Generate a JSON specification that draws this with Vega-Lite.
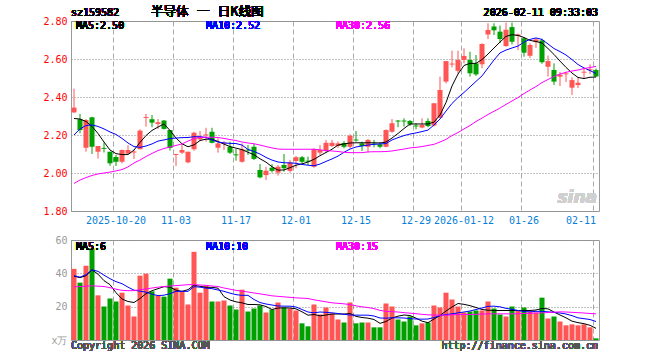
{
"$schema": "https://vega.github.io/schema/vega-lite/v6.json",
"background": "white",
"autosize": {"type": "pad"},
"padding": {"left": 42, "top": 5, "right": 5, "bottom": 5},
"spacing": 8,
"config": {
  "view": {"stroke": "#999", "strokeWidth": 1},
  "axis": {"labelFont": "DejaVu Sans Mono", "labelFontSize": 10, "labelOverlap": false},
  "text": {"font": "DejaVu Sans Mono", "fontSize": 10}
},
"datasets": {"k": [
{"d":"2025-10-09","o":2.319,"h":2.444,"l":2.316,"c":2.344,"v":42.7,"m5":2.287,"m10":2.200,"m30":1.945,"vm5":38.3,"vm10":38.6,"vm30":31.9},
{"d":"2025-10-10","o":2.283,"h":2.311,"l":2.209,"c":2.226,"v":34.4,"m5":2.284,"m10":2.232,"m30":1.963,"vm5":37.4,"vm10":37.7,"vm30":32.1},
{"d":"2025-10-13","o":2.133,"h":2.284,"l":2.112,"c":2.279,"v":44.5,"m5":2.271,"m10":2.250,"m30":1.976,"vm5":38.6,"vm10":39.2,"vm30":32.3},
{"d":"2025-10-14","o":2.293,"h":2.296,"l":2.100,"c":2.138,"v":55,"m5":2.245,"m10":2.253,"m30":1.987,"vm5":42.1,"vm10":42.1,"vm30":32.5},
{"d":"2025-10-15","o":2.112,"h":2.142,"l":2.076,"c":2.142,"v":26.8,"m5":2.208,"m10":2.245,"m30":1.995,"vm5":39.5,"vm10":41.2,"vm30":32.3},
{"d":"2025-10-16","o":2.132,"h":2.161,"l":2.108,"c":2.127,"v":20.1,"m5":2.163,"m10":2.232,"m30":2.000,"vm5":35.6,"vm10":38.9,"vm30":32.1},
{"d":"2025-10-17","o":2.112,"h":2.112,"l":2.038,"c":2.051,"v":24.9,"m5":2.121,"m10":2.216,"m30":2.005,"vm5":33.2,"vm10":36.8,"vm30":31.4},
{"d":"2025-10-20","o":2.084,"h":2.095,"l":2.037,"c":2.059,"v":23.1,"m5":2.102,"m10":2.203,"m30":2.011,"vm5":28.4,"vm10":35.0,"vm30":30.5},
{"d":"2025-10-21","o":2.059,"h":2.124,"l":2.051,"c":2.121,"v":28.4,"m5":2.097,"m10":2.182,"m30":2.018,"vm5":24.6,"vm10":33.8,"vm30":29.8},
{"d":"2025-10-22","o":2.102,"h":2.146,"l":2.100,"c":2.121,"v":20.7,"m5":2.097,"m10":2.158,"m30":2.032,"vm5":23.1,"vm10":31.7,"vm30":29.6},
{"d":"2025-10-23","o":2.108,"h":2.121,"l":2.074,"c":2.113,"v":14.1,"m5":2.121,"m10":2.139,"m30":2.053,"vm5":22.5,"vm10":29.9,"vm30":29.6},
{"d":"2025-10-24","o":2.125,"h":2.230,"l":2.125,"c":2.223,"v":38.6,"m5":2.161,"m10":2.135,"m30":2.068,"vm5":24.9,"vm10":29.3,"vm30":30.2},
{"d":"2025-10-27","o":2.290,"h":2.311,"l":2.244,"c":2.295,"v":39.8,"m5":2.197,"m10":2.142,"m30":2.087,"vm5":27.8,"vm10":28.7,"vm30":30.6},
{"d":"2025-10-28","o":2.283,"h":2.305,"l":2.241,"c":2.265,"v":29.2,"m5":2.224,"m10":2.153,"m30":2.103,"vm5":29.6,"vm10":27.5,"vm30":31.2},
{"d":"2025-10-29","o":2.258,"h":2.284,"l":2.232,"c":2.267,"v":26.6,"m5":2.242,"m10":2.168,"m30":2.118,"vm5":30.8,"vm10":26.6,"vm30":31.7},
{"d":"2025-10-30","o":2.276,"h":2.279,"l":2.229,"c":2.232,"v":26,"m5":2.258,"m10":2.174,"m30":2.129,"vm5":32.0,"vm10":26.9,"vm30":32.1},
{"d":"2025-10-31","o":2.226,"h":2.226,"l":2.118,"c":2.132,"v":36.8,"m5":2.224,"m10":2.181,"m30":2.137,"vm5":31.7,"vm10":27.8,"vm30":32.4},
{"d":"2025-11-03","o":2.095,"h":2.101,"l":2.037,"c":2.100,"v":31.4,"m5":2.184,"m10":2.184,"m30":2.145,"vm5":29.9,"vm10":29.2,"vm30":32.6},
{"d":"2025-11-04","o":2.107,"h":2.153,"l":2.100,"c":2.121,"v":29.2,"m5":2.154,"m10":2.186,"m30":2.153,"vm5":29.2,"vm10":29.2,"vm30":32.9},
{"d":"2025-11-05","o":2.056,"h":2.112,"l":2.051,"c":2.112,"v":21.3,"m5":2.138,"m10":2.187,"m30":2.168,"vm5":30.2,"vm10":29.2,"vm30":33.2},
{"d":"2025-11-06","o":2.125,"h":2.217,"l":2.117,"c":2.212,"v":52.9,"m5":2.148,"m10":2.191,"m30":2.181,"vm5":32.9,"vm10":32.0,"vm30":33.2},
{"d":"2025-11-07","o":2.177,"h":2.221,"l":2.168,"c":2.191,"v":28.4,"m5":2.171,"m10":2.191,"m30":2.188,"vm5":32.2,"vm10":31.7,"vm30":33.0},
{"d":"2025-11-10","o":2.198,"h":2.238,"l":2.165,"c":2.203,"v":32.6,"m5":2.178,"m10":2.187,"m30":2.188,"vm5":31.6,"vm10":31.1,"vm30":32.8},
{"d":"2025-11-11","o":2.217,"h":2.238,"l":2.156,"c":2.159,"v":23.1,"m5":2.178,"m10":2.174,"m30":2.188,"vm5":31.6,"vm10":30.8,"vm30":32.4},
{"d":"2025-11-12","o":2.133,"h":2.183,"l":2.107,"c":2.156,"v":23.1,"m5":2.166,"m10":2.163,"m30":2.187,"vm5":31.1,"vm10":30.0,"vm30":32.1},
{"d":"2025-11-13","o":2.155,"h":2.168,"l":2.121,"c":2.160,"v":23.7,"m5":2.152,"m10":2.158,"m30":2.182,"vm5":26.0,"vm10":29.2,"vm30":31.2},
{"d":"2025-11-14","o":2.138,"h":2.165,"l":2.100,"c":2.107,"v":20.7,"m5":2.139,"m10":2.156,"m30":2.176,"vm5":24.0,"vm10":28.1,"vm30":30.5},
{"d":"2025-11-17","o":2.098,"h":2.126,"l":2.065,"c":2.093,"v":18.3,"m5":2.131,"m10":2.155,"m30":2.171,"vm5":22.9,"vm10":27.2,"vm30":29.8},
{"d":"2025-11-18","o":2.059,"h":2.156,"l":2.054,"c":2.125,"v":30.2,"m5":2.123,"m10":2.147,"m30":2.163,"vm5":22.3,"vm10":26.8,"vm30":29.3},
{"d":"2025-11-19","o":2.123,"h":2.147,"l":2.095,"c":2.118,"v":17.1,"m5":2.109,"m10":2.124,"m30":2.158,"vm5":21.3,"vm10":26.8,"vm30":28.8},
{"d":"2025-11-20","o":2.138,"h":2.153,"l":2.068,"c":2.074,"v":18.9,"m5":2.096,"m10":2.113,"m30":2.154,"vm5":21.3,"vm10":24.3,"vm30":28.2},
{"d":"2025-11-21","o":2.016,"h":2.047,"l":1.972,"c":1.977,"v":20.7,"m5":2.075,"m10":2.100,"m30":2.147,"vm5":21.1,"vm10":22.5,"vm30":27.7},
{"d":"2025-11-24","o":1.989,"h":2.033,"l":1.963,"c":2.012,"v":16.5,"m5":2.057,"m10":2.082,"m30":2.139,"vm5":20.1,"vm10":21.6,"vm30":27.1},
{"d":"2025-11-25","o":2.028,"h":2.047,"l":2.002,"c":2.011,"v":18.3,"m5":2.033,"m10":2.068,"m30":2.132,"vm5":18.3,"vm10":21.0,"vm30":26.5},
{"d":"2025-11-26","o":2.002,"h":2.042,"l":1.986,"c":2.033,"v":22.5,"m5":2.015,"m10":2.058,"m30":2.126,"vm5":19.2,"vm10":20.4,"vm30":26.2},
{"d":"2025-11-27","o":2.042,"h":2.100,"l":2.007,"c":2.025,"v":19.5,"m5":2.016,"m10":2.054,"m30":2.125,"vm5":19.3,"vm10":20.3,"vm30":25.9},
{"d":"2025-11-28","o":2.011,"h":2.068,"l":2.002,"c":2.056,"v":18.9,"m5":2.028,"m10":2.053,"m30":2.125,"vm5":19.2,"vm10":20.3,"vm30":25.6},
{"d":"2025-12-01","o":2.063,"h":2.089,"l":2.025,"c":2.083,"v":17.7,"m5":2.041,"m10":2.051,"m30":2.125,"vm5":18.7,"vm10":19.8,"vm30":25.3},
{"d":"2025-12-02","o":2.083,"h":2.089,"l":2.051,"c":2.059,"v":10,"m5":2.048,"m10":2.045,"m30":2.125,"vm5":16.9,"vm10":18.3,"vm30":25.1},
{"d":"2025-12-03","o":2.065,"h":2.086,"l":2.042,"c":2.060,"v":8.2,"m5":2.058,"m10":2.041,"m30":2.125,"vm5":14.9,"vm10":16.8,"vm30":24.9},
{"d":"2025-12-04","o":2.033,"h":2.130,"l":2.028,"c":2.125,"v":21.3,"m5":2.072,"m10":2.038,"m30":2.125,"vm5":15.3,"vm10":16.3,"vm30":24.1},
{"d":"2025-12-05","o":2.107,"h":2.147,"l":2.095,"c":2.121,"v":15.3,"m5":2.091,"m10":2.047,"m30":2.122,"vm5":14.5,"vm10":16.8,"vm30":23.5},
{"d":"2025-12-08","o":2.116,"h":2.174,"l":2.107,"c":2.159,"v":19.5,"m5":2.108,"m10":2.061,"m30":2.118,"vm5":15.0,"vm10":16.6,"vm30":22.9},
{"d":"2025-12-09","o":2.142,"h":2.174,"l":2.137,"c":2.159,"v":15.9,"m5":2.125,"m10":2.074,"m30":2.116,"vm5":15.6,"vm10":16.3,"vm30":22.3},
{"d":"2025-12-10","o":2.142,"h":2.166,"l":2.132,"c":2.156,"v":12.3,"m5":2.147,"m10":2.089,"m30":2.113,"vm5":15.6,"vm10":15.9,"vm30":22.0},
{"d":"2025-12-11","o":2.158,"h":2.168,"l":2.130,"c":2.138,"v":10.5,"m5":2.153,"m10":2.109,"m30":2.109,"vm5":15.6,"vm10":15.4,"vm30":21.7},
{"d":"2025-12-12","o":2.138,"h":2.204,"l":2.130,"c":2.196,"v":22.5,"m5":2.158,"m10":2.126,"m30":2.107,"vm5":15.9,"vm10":15.0,"vm30":21.2},
{"d":"2025-12-15","o":2.176,"h":2.221,"l":2.165,"c":2.171,"v":10,"m5":2.159,"m10":2.137,"m30":2.107,"vm5":14.2,"vm10":14.9,"vm30":20.5},
{"d":"2025-12-16","o":2.156,"h":2.165,"l":2.116,"c":2.142,"v":10.5,"m5":2.159,"m10":2.142,"m30":2.107,"vm5":13.5,"vm10":14.9,"vm30":19.9},
{"d":"2025-12-17","o":2.138,"h":2.179,"l":2.107,"c":2.174,"v":10.5,"m5":2.159,"m10":2.147,"m30":2.111,"vm5":13.1,"vm10":14.9,"vm30":19.5},
{"d":"2025-12-18","o":2.155,"h":2.174,"l":2.135,"c":2.150,"v":7.6,"m5":2.159,"m10":2.151,"m30":2.112,"vm5":12.3,"vm10":14.4,"vm30":18.8},
{"d":"2025-12-19","o":2.151,"h":2.162,"l":2.130,"c":2.138,"v":7.6,"m5":2.158,"m10":2.153,"m30":2.112,"vm5":10.0,"vm10":13.2,"vm30":17.8},
{"d":"2025-12-22","o":2.138,"h":2.230,"l":2.135,"c":2.226,"v":21.9,"m5":2.163,"m10":2.155,"m30":2.113,"vm5":11.1,"vm10":13.1,"vm30":17.2},
{"d":"2025-12-23","o":2.217,"h":2.284,"l":2.212,"c":2.262,"v":20.1,"m5":2.184,"m10":2.174,"m30":2.116,"vm5":13.2,"vm10":13.3,"vm30":17.0},
{"d":"2025-12-24","o":2.276,"h":2.279,"l":2.241,"c":2.271,"v":12.3,"m5":2.208,"m10":2.186,"m30":2.121,"vm5":14.3,"vm10":13.3,"vm30":16.8},
{"d":"2025-12-25","o":2.276,"h":2.288,"l":2.244,"c":2.271,"v":11.1,"m5":2.234,"m10":2.197,"m30":2.126,"vm5":15.0,"vm10":13.2,"vm30":16.4},
{"d":"2025-12-26","o":2.274,"h":2.279,"l":2.247,"c":2.256,"v":14.1,"m5":2.258,"m10":2.205,"m30":2.132,"vm5":14.7,"vm10":12.8,"vm30":16.1},
{"d":"2025-12-29","o":2.250,"h":2.262,"l":2.230,"c":2.245,"v":8.8,"m5":2.258,"m10":2.211,"m30":2.135,"vm5":13.1,"vm10":12.6,"vm30":15.8},
{"d":"2025-12-30","o":2.239,"h":2.288,"l":2.235,"c":2.253,"v":10,"m5":2.258,"m10":2.218,"m30":2.139,"vm5":11.3,"vm10":12.5,"vm30":15.4},
{"d":"2025-12-31","o":2.274,"h":2.288,"l":2.241,"c":2.247,"v":10.5,"m5":2.258,"m10":2.226,"m30":2.145,"vm5":10.4,"vm10":12.6,"vm30":15.1},
{"d":"2026-01-05","o":2.250,"h":2.367,"l":2.245,"c":2.367,"v":20.7,"m5":2.268,"m10":2.253,"m30":2.151,"vm5":12.6,"vm10":13.5,"vm30":15.0},
{"d":"2026-01-06","o":2.291,"h":2.507,"l":2.288,"c":2.437,"v":19.5,"m5":2.305,"m10":2.284,"m30":2.163,"vm5":14.7,"vm10":14.6,"vm30":14.9},
{"d":"2026-01-07","o":2.481,"h":2.589,"l":2.472,"c":2.589,"v":28.4,"m5":2.371,"m10":2.326,"m30":2.177,"vm5":17.4,"vm10":15.3,"vm30":14.9},
{"d":"2026-01-08","o":2.571,"h":2.644,"l":2.556,"c":2.576,"v":24.3,"m5":2.458,"m10":2.366,"m30":2.197,"vm5":19.8,"vm10":15.7,"vm30":15.1},
{"d":"2026-01-09","o":2.538,"h":2.644,"l":2.525,"c":2.595,"v":20.1,"m5":2.521,"m10":2.397,"m30":2.213,"vm5":21.9,"vm10":16.3,"vm30":15.3},
{"d":"2026-01-12","o":2.595,"h":2.656,"l":2.577,"c":2.616,"v":16.5,"m5":2.566,"m10":2.424,"m30":2.232,"vm5":21.4,"vm10":16.8,"vm30":15.3},
{"d":"2026-01-13","o":2.595,"h":2.638,"l":2.507,"c":2.525,"v":17.1,"m5":2.577,"m10":2.453,"m30":2.250,"vm5":20.6,"vm10":17.4,"vm30":15.3},
{"d":"2026-01-14","o":2.577,"h":2.621,"l":2.511,"c":2.519,"v":17.7,"m5":2.577,"m10":2.482,"m30":2.271,"vm5":19.5,"vm10":18.3,"vm30":15.4},
{"d":"2026-01-15","o":2.572,"h":2.683,"l":2.551,"c":2.679,"v":17.7,"m5":2.597,"m10":2.511,"m30":2.289,"vm5":18.3,"vm10":19.2,"vm30":15.6},
{"d":"2026-01-16","o":2.729,"h":2.788,"l":2.705,"c":2.753,"v":23.1,"m5":2.626,"m10":2.553,"m30":2.308,"vm5":17.9,"vm10":20.2,"vm30":15.7},
{"d":"2026-01-19","o":2.771,"h":2.788,"l":2.726,"c":2.751,"v":18.9,"m5":2.658,"m10":2.595,"m30":2.325,"vm5":17.7,"vm10":20.3,"vm30":15.7},
{"d":"2026-01-20","o":2.744,"h":2.776,"l":2.684,"c":2.705,"v":15.3,"m5":2.689,"m10":2.632,"m30":2.342,"vm5":17.7,"vm10":19.9,"vm30":15.7},
{"d":"2026-01-21","o":2.668,"h":2.792,"l":2.665,"c":2.754,"v":14.1,"m5":2.719,"m10":2.647,"m30":2.361,"vm5":17.7,"vm10":19.0,"vm30":15.7},
{"d":"2026-01-22","o":2.768,"h":2.792,"l":2.677,"c":2.691,"v":20.1,"m5":2.728,"m10":2.658,"m30":2.379,"vm5":17.7,"vm10":18.4,"vm30":15.7},
{"d":"2026-01-23","o":2.721,"h":2.734,"l":2.647,"c":2.729,"v":17.7,"m5":2.724,"m10":2.668,"m30":2.397,"vm5":17.7,"vm10":17.7,"vm30":15.8},
{"d":"2026-01-26","o":2.709,"h":2.716,"l":2.612,"c":2.633,"v":19.5,"m5":2.713,"m10":2.689,"m30":2.418,"vm5":17.7,"vm10":17.1,"vm30":15.9},
{"d":"2026-01-27","o":2.617,"h":2.683,"l":2.605,"c":2.674,"v":17.1,"m5":2.698,"m10":2.703,"m30":2.437,"vm5":17.7,"vm10":16.9,"vm30":16.0},
{"d":"2026-01-28","o":2.689,"h":2.711,"l":2.658,"c":2.703,"v":16.5,"m5":2.692,"m10":2.711,"m30":2.455,"vm5":18.0,"vm10":17.2,"vm30":16.2},
{"d":"2026-01-29","o":2.698,"h":2.707,"l":2.575,"c":2.583,"v":25.4,"m5":2.684,"m10":2.703,"m30":2.476,"vm5":18.9,"vm10":17.2,"vm30":16.3},
{"d":"2026-01-30","o":2.559,"h":2.618,"l":2.508,"c":2.589,"v":12.9,"m5":2.655,"m10":2.679,"m30":2.492,"vm5":18.7,"vm10":16.9,"vm30":16.5},
{"d":"2026-02-02","o":2.542,"h":2.577,"l":2.463,"c":2.481,"v":14.1,"m5":2.624,"m10":2.655,"m30":2.508,"vm5":16.8,"vm10":16.6,"vm30":16.7},
{"d":"2026-02-03","o":2.507,"h":2.532,"l":2.458,"c":2.518,"v":11.1,"m5":2.589,"m10":2.639,"m30":2.521,"vm5":15.0,"vm10":16.2,"vm30":16.9},
{"d":"2026-02-04","o":2.519,"h":2.533,"l":2.479,"c":2.524,"v":8.8,"m5":2.556,"m10":2.621,"m30":2.530,"vm5":13.3,"vm10":15.6,"vm30":16.8},
{"d":"2026-02-05","o":2.449,"h":2.503,"l":2.411,"c":2.489,"v":9.4,"m5":2.526,"m10":2.597,"m30":2.537,"vm5":11.3,"vm10":14.6,"vm30":16.6},
{"d":"2026-02-06","o":2.463,"h":2.503,"l":2.447,"c":2.475,"v":8.8,"m5":2.503,"m10":2.571,"m30":2.542,"vm5":10.4,"vm10":13.3,"vm30":16.4},
{"d":"2026-02-09","o":2.528,"h":2.553,"l":2.500,"c":2.533,"v":9.4,"m5":2.497,"m10":2.553,"m30":2.550,"vm5":9.8,"vm10":12.8,"vm30":16.2},
{"d":"2026-02-10","o":2.541,"h":2.572,"l":2.521,"c":2.546,"v":7.6,"m5":2.504,"m10":2.539,"m30":2.555,"vm5":8.8,"vm10":12.3,"vm30":15.9},
{"d":"2026-02-11","o":2.542,"h":2.550,"l":2.505,"c":2.508,"v":1,"m5":2.505,"m10":2.524,"m30":2.561,"vm5":7.0,"vm10":11.1,"vm30":15.7}
]},
"vconcat": [
{
  "width": 528, "height": 190,
  "data": {"name": "k"},
  "encoding": {
    "x": {"field": "d", "type": "ordinal", "sort": null,
      "scale": {"type": "band", "paddingInner": 0, "paddingOuter": 0},
      "axis": {"title": null, "values": ["2025-10-20","2025-11-03","2025-11-17","2025-12-01","2025-12-15","2025-12-29","2026-01-12","2026-01-26","2026-02-11"],
        "bandPosition": 0, "ticks": false, "domain": false, "grid": true, "gridDash": [5,3], "gridColor": "#aaa", "gridOpacity": 1,
        "labelColor": "#0a7fd8", "labelPadding": 4, "labelAngle": 0, "labelOverlap": false,
        "labelExpr": "datum.value == '2025-10-20' || datum.value == '2026-01-12' ? datum.value : substring(datum.value, 5)",
        "labelAlign": {"condition": {"test": "datum.value == '2026-02-11'", "value": "right"}, "value": "center"}}}
  },
  "layer": [
    {"mark": {"type": "rule", "strokeWidth": 1},
     "encoding": {
       "y": {"field": "l", "type": "quantitative", "scale": {"domain": [1.8, 2.8], "nice": false, "zero": false},
         "axis": {"title": null, "values": [1.8, 2.0, 2.2, 2.4, 2.6, 2.8], "tickCount": 20, "format": ".2f", "labelColor": "#ff0000", "labelOverlap": false, "ticks": false, "domain": false, "grid": true, "gridDash": [1,2], "gridColor": "#888", "gridOpacity": 1, "labelPadding": 4}},
       "y2": {"field": "h"},
       "color": {"condition": {"test": "datum.c >= datum.o", "value": "#ff5555"}, "value": "#00a000"}}},
    {"mark": {"type": "bar", "width": {"band": 0.84}},
     "encoding": {
       "y": {"field": "o", "type": "quantitative", "scale": {"domain": [1.8, 2.8], "nice": false, "zero": false},
         "axis": {"title": null, "values": [1.8, 2.0, 2.2, 2.4, 2.6, 2.8], "tickCount": 20, "format": ".2f", "labelColor": "#ff0000", "labelOverlap": false, "ticks": false, "domain": false, "grid": true, "gridDash": [1,2], "gridColor": "#888", "gridOpacity": 1, "labelPadding": 4}},
       "y2": {"field": "c"},
       "color": {"condition": {"test": "datum.c >= datum.o", "value": "#ff5555"}, "value": "#00a000"}}},
    {"mark": {"type": "line", "color": "#000000", "strokeWidth": 1},
     "encoding": {"y": {"field": "m5", "type": "quantitative", "scale": {"domain": [1.8, 2.8], "nice": false, "zero": false},
         "axis": {"title": null, "values": [1.8, 2.0, 2.2, 2.4, 2.6, 2.8], "tickCount": 20, "format": ".2f", "labelColor": "#ff0000", "labelOverlap": false, "ticks": false, "domain": false, "grid": true, "gridDash": [1,2], "gridColor": "#888", "gridOpacity": 1, "labelPadding": 4}}}},
    {"mark": {"type": "line", "color": "#0000ff", "strokeWidth": 1},
     "encoding": {"y": {"field": "m10", "type": "quantitative", "scale": {"domain": [1.8, 2.8], "nice": false, "zero": false},
         "axis": {"title": null, "values": [1.8, 2.0, 2.2, 2.4, 2.6, 2.8], "tickCount": 20, "format": ".2f", "labelColor": "#ff0000", "labelOverlap": false, "ticks": false, "domain": false, "grid": true, "gridDash": [1,2], "gridColor": "#888", "gridOpacity": 1, "labelPadding": 4}}}},
    {"mark": {"type": "line", "color": "#ff00ff", "strokeWidth": 1},
     "encoding": {"y": {"field": "m30", "type": "quantitative", "scale": {"domain": [1.8, 2.8], "nice": false, "zero": false},
         "axis": {"title": null, "values": [1.8, 2.0, 2.2, 2.4, 2.6, 2.8], "tickCount": 20, "format": ".2f", "labelColor": "#ff0000", "labelOverlap": false, "ticks": false, "domain": false, "grid": true, "gridDash": [1,2], "gridColor": "#888", "gridOpacity": 1, "labelPadding": 4}}}},
    {"mark": {"type": "text", "text": "MA5:2.50", "align": "left", "baseline": "middle", "dx": 5, "dy": 5, "color": "#000000"},
     "encoding": {"x": {"datum": "2025-10-09", "type": "ordinal", "bandPosition": 0}, "y": {"datum": 2.8, "type": "quantitative", "title": null}}},
    {"mark": {"type": "text", "text": "MA10:2.52", "align": "left", "baseline": "middle", "dx": 3, "dy": 5, "color": "#0000ff"},
     "encoding": {"x": {"datum": "2025-11-10", "type": "ordinal", "bandPosition": 0}, "y": {"datum": 2.8, "type": "quantitative", "title": null}}},
    {"mark": {"type": "text", "text": "MA30:2.56", "align": "left", "baseline": "middle", "dx": 1, "dy": 5, "color": "#ff00ff"},
     "encoding": {"x": {"datum": "2025-12-10", "type": "ordinal", "bandPosition": 0}, "y": {"datum": 2.8, "type": "quantitative", "title": null}}},
    {"mark": {"type": "text", "text": "sz159582", "align": "left", "baseline": "middle", "dx": 0, "dy": -8, "color": "#000000"},
     "encoding": {"x": {"datum": "2025-10-09", "type": "ordinal", "bandPosition": 0}, "y": {"datum": 2.8, "type": "quantitative", "title": null}}},
    {"mark": {"type": "text", "text": "半导体\u00a0\u00a0\u00a0一\u00a0\u00a0\u00a0日K线图", "font": "Noto Sans CJK SC", "fontSize": 12.5, "align": "left", "baseline": "middle", "dx": 2, "dy": -9, "color": "#000000"},
     "encoding": {"x": {"datum": "2025-10-28", "type": "ordinal", "bandPosition": 0}, "y": {"datum": 2.8, "type": "quantitative", "title": null}}},
    {"mark": {"type": "text", "text": "2026-02-11 09:33:03", "align": "right", "baseline": "middle", "dx": -1, "dy": -8, "color": "#000000"},
     "encoding": {"x": {"datum": "2026-02-11", "type": "ordinal", "bandPosition": 1}, "y": {"datum": 2.8, "type": "quantitative", "title": null}}},
    {"mark": {"type": "text", "text": "sina", "font": "DejaVu Sans", "fontSize": 17, "fontWeight": "bold", "fontStyle": "italic", "align": "right", "baseline": "middle", "dx": -2, "color": "#d0d0d0"},
     "encoding": {"x": {"datum": "2026-02-11", "type": "ordinal", "bandPosition": 1}, "y": {"datum": 1.868, "type": "quantitative", "title": null}}}
  ]
},
{
  "width": 528, "height": 100,
  "data": {"name": "k"},
  "encoding": {
    "x": {"field": "d", "type": "ordinal", "sort": null,
      "scale": {"type": "band", "paddingInner": 0, "paddingOuter": 0},
      "axis": {"title": null, "values": ["2025-10-20","2025-11-03","2025-11-17","2025-12-01","2025-12-15","2025-12-29","2026-01-12","2026-01-26","2026-02-11"],
        "bandPosition": 0, "ticks": false, "domain": false, "labels": false, "grid": true, "gridDash": [5,3], "gridColor": "#aaa", "gridOpacity": 1}}
  },
  "layer": [
    {"mark": {"type": "bar", "width": {"band": 0.84}},
     "encoding": {
       "y": {"field": "v", "type": "quantitative", "scale": {"domain": [0, 60], "nice": false},
         "axis": {"title": null, "values": [0, 20, 40, 60], "tickCount": 20, "labelExpr": "datum.value == 0 ? 'x万' : datum.label", "labelColor": "#999", "labelOverlap": false, "ticks": false, "domain": false, "grid": true, "gridDash": [1,2], "gridColor": "#888", "gridOpacity": 1, "labelPadding": 4}},
       "color": {"condition": {"test": "datum.c >= datum.o", "value": "#ff5555"}, "value": "#00a000"}}},
    {"mark": {"type": "line", "color": "#000000", "strokeWidth": 1},
     "encoding": {"y": {"field": "vm5", "type": "quantitative", "scale": {"domain": [0, 60], "nice": false},
         "axis": {"title": null, "values": [0, 20, 40, 60], "tickCount": 20, "labelExpr": "datum.value == 0 ? 'x万' : datum.label", "labelColor": "#999", "labelOverlap": false, "ticks": false, "domain": false, "grid": true, "gridDash": [1,2], "gridColor": "#888", "gridOpacity": 1, "labelPadding": 4}}}},
    {"mark": {"type": "line", "color": "#0000ff", "strokeWidth": 1},
     "encoding": {"y": {"field": "vm10", "type": "quantitative", "scale": {"domain": [0, 60], "nice": false},
         "axis": {"title": null, "values": [0, 20, 40, 60], "tickCount": 20, "labelExpr": "datum.value == 0 ? 'x万' : datum.label", "labelColor": "#999", "labelOverlap": false, "ticks": false, "domain": false, "grid": true, "gridDash": [1,2], "gridColor": "#888", "gridOpacity": 1, "labelPadding": 4}}}},
    {"mark": {"type": "line", "color": "#ff00ff", "strokeWidth": 1},
     "encoding": {"y": {"field": "vm30", "type": "quantitative", "scale": {"domain": [0, 60], "nice": false},
         "axis": {"title": null, "values": [0, 20, 40, 60], "tickCount": 20, "labelExpr": "datum.value == 0 ? 'x万' : datum.label", "labelColor": "#999", "labelOverlap": false, "ticks": false, "domain": false, "grid": true, "gridDash": [1,2], "gridColor": "#888", "gridOpacity": 1, "labelPadding": 4}}}},
    {"mark": {"type": "text", "text": "MA5:6", "align": "left", "baseline": "middle", "dx": 5, "dy": 7, "color": "#000000"},
     "encoding": {"x": {"datum": "2025-10-09", "type": "ordinal", "bandPosition": 0}, "y": {"datum": 60, "type": "quantitative", "title": null}}},
    {"mark": {"type": "text", "text": "MA10:10", "align": "left", "baseline": "middle", "dx": 3, "dy": 7, "color": "#0000ff"},
     "encoding": {"x": {"datum": "2025-11-10", "type": "ordinal", "bandPosition": 0}, "y": {"datum": 60, "type": "quantitative", "title": null}}},
    {"mark": {"type": "text", "text": "MA30:15", "align": "left", "baseline": "middle", "dx": 1, "dy": 7, "color": "#ff00ff"},
     "encoding": {"x": {"datum": "2025-12-10", "type": "ordinal", "bandPosition": 0}, "y": {"datum": 60, "type": "quantitative", "title": null}}},
    {"mark": {"type": "text", "text": "Copyright 2026 SINA.COM", "align": "left", "baseline": "middle", "dx": 0, "dy": 6, "color": "#555555"},
     "encoding": {"x": {"datum": "2025-10-09", "type": "ordinal", "bandPosition": 0}, "y": {"datum": 0, "type": "quantitative", "title": null}}},
    {"mark": {"type": "text", "text": "http://finance.sina.com.cn", "align": "right", "baseline": "middle", "dx": -1, "dy": 6, "color": "#555555"},
     "encoding": {"x": {"datum": "2026-02-11", "type": "ordinal", "bandPosition": 1}, "y": {"datum": 0, "type": "quantitative", "title": null}}}
  ]
}
]
}
